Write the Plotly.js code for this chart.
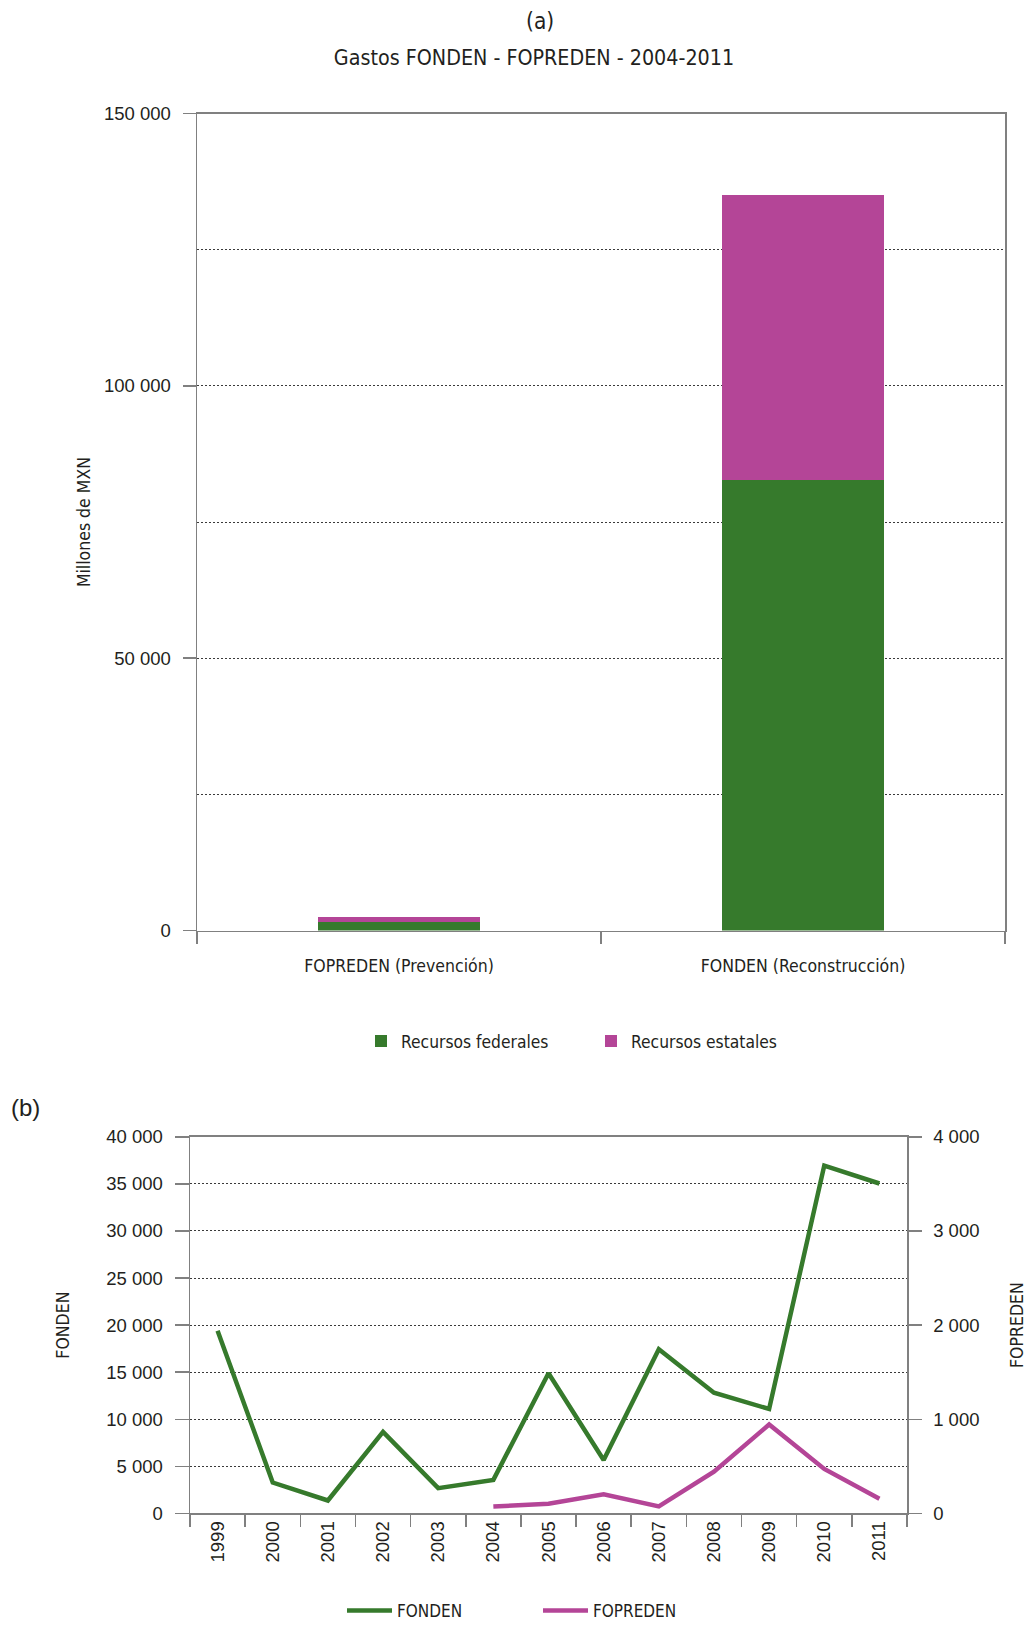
<!DOCTYPE html>
<html>
<head>
<meta charset="utf-8">
<script src="https://cdn.plot.ly/plotly-3.0.1.min.js"></script>
<style>html,body{margin:0;padding:0;background:#fff;}#chart{width:1027px;height:1629px;}</style>
</head>
<body>
<div id="chart"></div>
<script>
// ---- Data (a) ----
const categoriasA = ['FOPREDEN (Prevención)', 'FONDEN (Reconstrucción)'];
const recursosFederales = [1520, 82700];
const recursosEstatales = [990, 52400];
const yTicksA = [0, 50000, 100000, 150000];
const yTickLabelsA = ['0', '50 000', '100 000', '150 000'];

// ---- Data (b) ----
const years = ['1999','2000','2001','2002','2003','2004','2005','2006','2007','2008','2009','2010','2011'];
const fonden = [19400, 3280, 1370, 8660, 2680, 3560, 14890, 5670, 17430, 12820, 11090, 36940, 35040];
const fopredenYears = ['2004','2005','2006','2007','2008','2009','2010','2011'];
const fopreden = [74, 102, 204, 74, 444, 944, 472, 155];
const yTicksB = [0, 5000, 10000, 15000, 20000, 25000, 30000, 35000, 40000];
const yTickLabelsB = ['0','5 000','10 000','15 000','20 000','25 000','30 000','35 000','40 000'];
const y3Ticks = [0, 1000, 2000, 3000, 4000];
const y3TickLabels = ['0','1 000','2 000','3 000','4 000'];

const GREEN = '#367A2C';
const PINK = '#B44597';
const AXIS = '#808080';
const GRID = '#3a3a3a';
const TXT = '#231f20';
const NARROW = '"DejaVu Sans Condensed", "DejaVu Sans", sans-serif';
const SANS = '"Liberation Sans", Arial, sans-serif';
const W = 1027, H = 1629;

const traces = [
  {type:'bar', name:'Recursos federales', x:categoriasA, y:recursosFederales, width:0.4,
   marker:{color:GREEN}, xaxis:'x', yaxis:'y', legend:'legend', hoverinfo:'skip'},
  {type:'bar', name:'Recursos estatales', x:categoriasA, y:recursosEstatales, width:0.4,
   marker:{color:PINK}, xaxis:'x', yaxis:'y', legend:'legend', hoverinfo:'skip'},
  {type:'scatter', mode:'lines', name:'FONDEN', x:years, y:fonden,
   line:{color:GREEN, width:4.5}, xaxis:'x2', yaxis:'y2', legend:'legend2'},
  {type:'scatter', mode:'lines', name:'FOPREDEN', x:fopredenYears, y:fopreden,
   line:{color:PINK, width:4.5}, xaxis:'x2', yaxis:'y3', legend:'legend2'}
];

const gridStyle = {showgrid:true, gridcolor:GRID, gridwidth:1, griddash:'2px,2px'};

const layout = {
  width:W, height:H,
  margin:{l:0, r:0, t:0, b:0, pad:0},
  paper_bgcolor:'#ffffff', plot_bgcolor:'#ffffff',
  barmode:'stack',
  font:{family:NARROW, color:TXT},
  title:{text:'Gastos FONDEN - FOPREDEN - 2004-2011', x:534/W, xref:'paper', xanchor:'center',
         y:1-58/H, yref:'container', yanchor:'middle', font:{family:NARROW, size:21.3, color:TXT}},
  annotations:[
    {text:'(a)', xref:'paper', yref:'paper', x:540/W, y:1-21/H, xanchor:'center', yanchor:'middle',
     showarrow:false, font:{family:NARROW, size:22.5, color:TXT}},
    {text:'(b)', xref:'paper', yref:'paper', x:25/W, y:1-1112/H, xanchor:'center', yanchor:'middle',
     showarrow:false, font:{family:SANS, size:24, color:TXT}}
  ],
  xaxis:{domain:[197/W, 1005/W], anchor:'y', type:'category', tickson:'boundaries',
         ticks:'outside', ticklen:12, tickwidth:1.5, tickcolor:AXIS,
         showline:true, linecolor:AXIS, linewidth:1.5, mirror:true, showgrid:false, zeroline:false,
         tickfont:{family:NARROW, size:17.5, color:TXT}, ticklabelstandoff:19},
  yaxis:Object.assign({domain:[(H-934)/H, (H-114)/H], anchor:'x', range:[0,150000],
         tickmode:'array', tickvals:yTicksA, ticktext:yTickLabelsA,
         ticks:'outside', ticklen:13, tickwidth:1.5, tickcolor:AXIS,
         showline:true, linecolor:AXIS, linewidth:1.5, mirror:true, zeroline:false,
         minor:{tick0:0, dtick:25000, showgrid:true, gridcolor:GRID, gridwidth:1, griddash:'2px,2px', ticks:''},
         tickfont:{family:SANS, size:18.5, color:TXT}, ticklabelstandoff:8,
         title:{text:'Millones de MXN', font:{family:NARROW, size:17.5, color:TXT}, standoff:9}}, gridStyle),
  xaxis2:{domain:[190/W, 907/W], anchor:'y2', type:'category', tickson:'boundaries', range:[-0.5, 12.5],
         ticks:'outside', ticklen:12, tickwidth:1.5, tickcolor:AXIS, tickangle:-90,
         showline:true, linecolor:AXIS, linewidth:1.5, mirror:true, showgrid:false, zeroline:false,
         tickfont:{family:SANS, size:18.5, color:TXT}, ticklabelstandoff:-1},
  yaxis2:Object.assign({domain:[(H-1519)/H, (H-1141)/H], anchor:'x2', range:[0,40000],
         tickmode:'array', tickvals:yTicksB, ticktext:yTickLabelsB,
         ticks:'outside', ticklen:14, tickwidth:1.5, tickcolor:AXIS,
         showline:true, linecolor:AXIS, linewidth:1.5, mirror:false, zeroline:false,
         tickfont:{family:SANS, size:18.5, color:TXT}, ticklabelstandoff:8,
         title:{text:'FONDEN', font:{family:NARROW, size:17.5, color:TXT}, standoff:32}}, gridStyle),
  yaxis3:{overlaying:'y2', side:'right', anchor:'x2', range:[0,4000],
         tickmode:'array', tickvals:y3Ticks, ticktext:y3TickLabels,
         ticks:'outside', ticklen:13, tickwidth:1.5, tickcolor:AXIS,
         showline:true, linecolor:AXIS, linewidth:1.5, showgrid:false, zeroline:false,
         tickfont:{family:SANS, size:18.5, color:TXT}, ticklabelstandoff:8,
         title:{text:'FOPREDEN', font:{family:NARROW, size:17.5, color:TXT}, standoff:33}},
  legend:{orientation:'h', x:361/W, xanchor:'left', y:1-1045/H, yanchor:'middle',
          font:{family:NARROW, size:17.3, color:TXT}, traceorder:'normal',
          entrywidth:185, entrywidthmode:'pixels', bgcolor:'rgba(0,0,0,0)'},
  legend2:{orientation:'h', x:342/W, xanchor:'left', y:12/H, yanchor:'middle',
          font:{family:NARROW, size:17, color:TXT}, traceorder:'normal', itemwidth:45,
          entrywidth:136, entrywidthmode:'pixels', bgcolor:'rgba(0,0,0,0)'},
  showlegend:true
};

Plotly.newPlot('chart', traces, layout, {displayModeBar:false, staticPlot:true});
</script>
</body>
</html>
